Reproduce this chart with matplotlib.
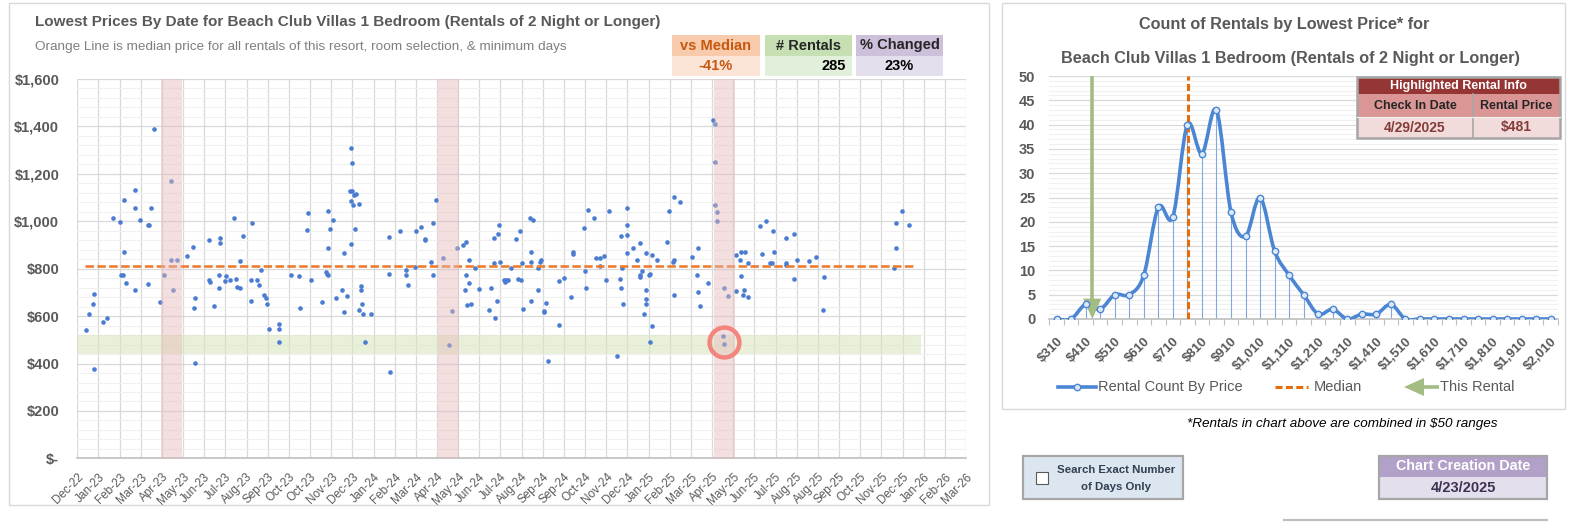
# -*- coding: utf-8 -*-
# Lowest prices by date and count of rentals by price
# Beach Club Villas 1 Bedroom (Rentals of 2 Night or Longer)
# ============================================

# Imports
import numpy as np
import pandas as pd
import matplotlib
matplotlib.use("Agg")
import matplotlib.pyplot as plt
import matplotlib.dates as mdates
import matplotlib.ticker as ticker
from matplotlib.path import Path
from matplotlib.patches import PathPatch, Rectangle, Polygon
# ============================================

plt.rcParams['font.family'] = ['Liberation Sans', 'DejaVu Sans']
# ============================================

# Variables
# scatter: check-in day (days after 2022-12-25) and lowest price
start_date = "2022-12-25"
check_in_days = [
    11, 15, 21, 22, 22, 34, 39, 47, 56, 58, 60, 62, 62, 64, 76, 76, 76, 83, 93, 95,
    93, 97, 101, 110, 115, 124, 124, 127, 132, 145, 153, 154, 156, 156, 174, 174, 176, 181, 187, 187,
    189, 189, 195, 197, 202, 207, 210, 211, 215, 215, 219, 230, 230, 231, 238, 240, 243, 247, 250, 251,
    254, 267, 267, 267, 283, 293, 295, 304, 305, 309, 324, 329, 330, 332, 332, 332, 334, 338, 342, 350,
    353, 353, 357, 362, 363, 361, 363, 362, 365, 366, 369, 362, 367, 373, 373, 375, 375, 377, 378, 381,
    389, 412, 412, 414, 427, 435, 435, 437, 448, 447, 455, 460, 460, 468, 471, 471, 474, 484, 492, 496,
    502, 510, 513, 514, 514, 516, 518, 518, 521, 526, 531,
    547, 545, 552, 552, 553, 555, 557, 558, 559, 564, 566, 567, 570, 574, 580, 583, 586, 587, 588, 590,
    599, 600, 600, 600, 603, 609, 609, 612, 613, 617, 617, 620, 623, 637, 637, 644, 653, 656, 656, 671,
    672, 673, 676, 684, 686, 692, 692, 697, 700, 703, 714, 718, 719, 721, 720, 722, 728, 728, 728, 728,
    736, 740, 744, 744, 744, 747, 750, 752, 752, 752, 752, 756, 758, 758, 760, 760, 767, 780, 783, 788,
    789, 789, 789, 797, 813, 820, 821, 821, 824, 834, 841, 844, 844, 844, 847, 847, 856, 861, 854, 856,
    872, 872, 877, 878, 878, 882, 881, 884, 887, 887, 903, 906, 912, 916, 919, 920, 922, 938, 938, 938,
    948, 949, 952, 968, 977, 987, 988, 1081, 1083, 1083, 1091, 1100,
]
lowest_prices = [
    542, 609, 651, 694, 377, 575, 592, 1015, 998, 774, 774, 1091, 871, 740, 1133, 1057, 711, 1006, 985, 985,
    736, 1057, 1390, 660, 774, 1171, 837, 711, 837, 854, 892, 635, 677, 402, 922, 753, 744, 643, 774, 719,
    930, 909, 749, 770, 753, 1015, 757, 723, 833, 719, 939, 753, 664, 993, 753, 732, 795, 689, 677, 651,
    546, 567, 546, 491, 774, 770, 635, 964, 1036, 753, 660, 787, 778, 774, 1044, 888, 968, 1006, 677, 711,
    867, 618, 685, 1310, 1247, 1129, 1129, 1086, 1069, 1112, 1116, 905, 968, 1074, 626, 727, 711, 651, 609, 491,
    609, 934, 778, 364, 960, 795, 774, 732, 960, 808, 977, 926, 922, 829, 993, 774, 1091, 846, 478, 622,
    888, 901, 711, 913, 774, 647, 837, 740, 651, 803, 715,
    719, 626, 930, 825, 592, 664, 947, 985, 829, 753, 744, 753, 753, 803, 926, 757, 960, 753, 825, 630,
    1015, 871, 829, 664, 1006, 803, 711, 829, 837, 622, 618, 656, 411, 749, 563, 761, 681, 871, 862, 972,
    791, 719, 1048, 1015, 846, 846, 812, 854, 753, 1044, 432, 757, 939, 803, 719, 651, 1057, 985, 943, 867,
    888, 837, 909, 774, 765, 791, 609, 867, 711, 673, 651, 774, 778, 491, 858, 559, 837, 913, 1044, 829,
    837, 1103, 689, 1082, 850, 774, 888, 702, 643, 740, 1428, 1411, 1251, 1069, 1040, 1002, 719, 685, 516, 481,
    858, 706, 837, 871, 770, 711, 689, 871, 825, 681, 981, 862, 1002, 825, 825, 960, 871, 930, 825, 816,
    947, 757, 837, 833, 850, 626, 765, 803, 993, 888, 1044, 985,
]

median_price = 811
median_from = "2023-01-04"
median_to = "2026-01-04"

highlight_date = "2025-04-29"
highlight_price = 481
band_lo, band_hi = 441, 521
band_to = "2026-01-15"
season_from = ["2023-04-15", "2024-04-15", "2025-04-15"]
season_to = ["2023-05-13", "2024-05-13", "2025-05-13"]

axis_from = "2022-12-25"
axis_to = "2026-03-15"

# histogram: $50 price ranges and rental counts
price_bins = [310, 360, 410, 460, 510, 560, 610, 660, 710, 760, 810, 860, 910, 960, 1010, 1060, 1110, 1160,
              1210, 1260, 1310, 1360, 1410, 1460, 1510, 1560, 1610, 1660, 1710, 1760, 1810, 1860, 1910,
              1960, 2010]
rental_counts = [0, 0, 3, 2, 5, 5, 9, 23, 21, 40, 34, 43, 22, 17, 25, 14, 9, 5,
                 1, 2, 0, 1, 1, 3, 0, 0, 0, 0, 0, 0, 0, 0, 0,
                 0, 0]

vs_median = "-41%"
n_rentals = "285"
pct_changed = "23%"
creation_date = "4/23/2025"

W, H = 1583, 522
GRAY = '#595959'
BLUE = '#4A86D4'
# ============================================

# Functions
def smooth_path(x, y):
    # Catmull-Rom through the points, as Bezier segments
    x = np.asarray(x, float)
    y = np.asarray(y, float)
    px = np.concatenate([[x[0]], x, [x[-1]]])
    py = np.concatenate([[y[0]], y, [y[-1]]])
    verts = [(x[0], y[0])]
    codes = [Path.MOVETO]
    for i in range(len(x) - 1):
        p0 = np.array([px[i], py[i]])
        p1 = np.array([px[i + 1], py[i + 1]])
        p2 = np.array([px[i + 2], py[i + 2]])
        p3 = np.array([px[i + 3], py[i + 3]])
        verts += [tuple(p1 + (p2 - p0) / 6), tuple(p2 - (p3 - p1) / 6), tuple(p2)]
        codes += [Path.CURVE4] * 3
    return Path(verts, codes)


def box(ax, x0, y0, x1, y1, fc, ec='none', lw=0):
    ax.add_patch(Rectangle((x0, y0), x1 - x0, y1 - y0, facecolor=fc, edgecolor=ec, linewidth=lw))


def px_axes(fig, x0, y0, x1, y1):
    return fig.add_axes([x0 / W, (H - y1) / H, (x1 - x0) / W, (y1 - y0) / H])
# ============================================

# Main
if __name__ == '__main__':

    fig = plt.figure(figsize=(W / 100, H / 100), dpi=100)
    fig.patch.set_facecolor('white')

    # background layer in pixel coordinates
    bg = fig.add_axes([0, 0, 1, 1])
    bg.set_xlim(0, W)
    bg.set_ylim(H, 0)
    bg.axis('off')

    # chart frames
    box(bg, 9, 3, 989, 505, 'none', '#D9D9D9', 1)
    box(bg, 1002, 3, 1565, 409, 'none', '#D9D9D9', 1)

    # ---------------- left chart ----------------
    bg.text(35, 22, "Lowest Prices By Date for Beach Club Villas 1 Bedroom (Rentals of 2 Night or Longer)",
            fontsize=11, weight='bold', color=GRAY, va='center', ha='left')
    bg.text(35, 47, "Orange Line is median price for all rentals of this resort, room selection, & minimum days",
            fontsize=9.7, color='#7F7F7F', va='center', ha='left')

    heads = [("vs Median", vs_median, '#F8CBAD', '#FCE4D6', '#C65911', 672, 760, 'center'),
             ("# Rentals", n_rentals, '#C6E0B4', '#E2EFDA', '#000000', 765, 852, 'right'),
             ("% Changed", pct_changed, '#CCC0DA', '#E4DFEC', '#000000', 856, 943, 'center')]
    for head, val, c1, c2, tc, x0, x1, ha in heads:
        box(bg, x0, 35, x1, 56, c1)
        box(bg, x0, 56, x1, 76, c2)
        bg.text((x0 + x1) / 2, 45.5, head, fontsize=10.5, weight='bold',
                color='#C65911' if tc == '#C65911' else '#262626', ha='center', va='center')
        vx = x1 - 6 if ha == 'right' else (x0 + x1) / 2
        bg.text(vx, 66, val, fontsize=10.5, weight='bold', color=tc, ha=ha, va='center')

    ax1 = px_axes(fig, 77.3, 79, 966, 458.4)
    dates = pd.Timestamp(start_date) + pd.to_timedelta(check_in_days, unit='D')
    ax1.set_axisbelow(True)
    ax1.scatter(dates, lowest_prices, s=11, color='#4A7DD1', linewidths=0, zorder=2)
    ax1.plot([pd.Timestamp(median_from), pd.Timestamp(median_to)], [median_price, median_price],
             color='#ED7D31', lw=1.9, dashes=(3.2, 1.3), zorder=3)
    ax1.fill_between([pd.Timestamp(axis_from), pd.Timestamp(band_to)], band_lo, band_hi,
                     color='#D8E4BC', alpha=0.55, lw=0, zorder=1.5)
    for a, b in zip(season_from, season_to):
        ax1.axvspan(pd.Timestamp(a), pd.Timestamp(b), color='#E6B9B8', alpha=0.45, lw=0, zorder=4)
    ax1.plot([pd.Timestamp(highlight_date)], [highlight_price + 8], 'o', ms=21.5, mfc='none',
             mec='#F4847E', mew=3.2, zorder=5)

    ax1.set_xlim(pd.Timestamp(axis_from), pd.Timestamp(axis_to))
    ax1.set_ylim(0, 1600)
    ax1.xaxis.set_major_locator(ticker.FixedLocator(
        mdates.date2num(pd.date_range(axis_from, axis_to, freq='28D'))))
    ax1.xaxis.set_major_formatter(mdates.DateFormatter('%b-%y'))
    ax1.yaxis.set_major_locator(ticker.MultipleLocator(200))
    ax1.yaxis.set_minor_locator(ticker.MultipleLocator(40))
    ax1.yaxis.set_major_formatter(ticker.FuncFormatter(lambda v, p: "$-" if v == 0 else f"${v:,.0f}"))
    ax1.grid(which='major', color='#D9D9D9', lw=0.9)
    ax1.grid(which='minor', axis='y', color='#F0F0F0', lw=0.8)
    for s in ['top', 'right', 'left']:
        ax1.spines[s].set_visible(False)
    ax1.spines['bottom'].set_color('#BFBFBF')
    ax1.spines['bottom'].set_linewidth(1.2)
    ax1.tick_params(axis='y', which='both', length=0, pad=13, labelsize=10.5, labelcolor=GRAY)
    ax1.tick_params(axis='x', length=0, pad=9, labelsize=8.5, labelcolor=GRAY)
    for lab in ax1.get_yticklabels():
        lab.set_fontweight('bold')
    for lab in ax1.get_xticklabels():
        lab.set_rotation(45)
        lab.set_ha('right')
        lab.set_rotation_mode('anchor')

    # ---------------- right chart ----------------
    bg.text(1284, 25, "Count of Rentals by Lowest Price* for", fontsize=11.7, weight='bold',
            color=GRAY, ha='center', va='center')
    bg.text(1290, 58, "Beach Club Villas 1 Bedroom (Rentals of 2 Night or Longer)", fontsize=11.7,
            weight='bold', color=GRAY, ha='center', va='center')

    ax2 = px_axes(fig, 1049.3, 76, 1558, 319)
    idx = np.arange(len(price_bins))
    ax2.set_axisbelow(True)
    ax2.vlines(idx, 0, rental_counts, color='#7FAADF', lw=0.8, zorder=2)
    ax2.add_patch(PathPatch(smooth_path(idx, rental_counts), facecolor='none', edgecolor=BLUE,
                            lw=2.6, zorder=3, capstyle='round', joinstyle='round'))
    ax2.plot(idx, rental_counts, 'o', ms=4.6, mfc='#DDE8F5', mec=BLUE, mew=1, zorder=5)

    med_pos = (median_price - 358) / 50
    ax2.plot([med_pos, med_pos], [0, 50], color='#E46C0A', lw=2.2, dashes=(2.3, 1.1), zorder=4)
    hl_pos = (highlight_price - 358) / 50
    ax2.plot([hl_pos, hl_pos], [4, 50], color='#A3BC84', lw=2.6, zorder=4, solid_capstyle='butt')
    ax2.add_patch(Polygon([[hl_pos - 0.62, 4.2], [hl_pos + 0.62, 4.2], [hl_pos, 0]], closed=True,
                          facecolor='#A3BC84', edgecolor='none', zorder=4))

    ax2.set_xlim(-0.5, len(price_bins) - 0.5)
    ax2.set_ylim(0, 50)
    ax2.set_xticks(idx[::2])
    ax2.set_xticklabels([f"${p:,}" for p in price_bins[::2]])
    ax2.set_xticks(np.arange(-0.5, len(price_bins)), minor=True)
    ax2.yaxis.set_major_locator(ticker.MultipleLocator(5))
    ax2.yaxis.set_minor_locator(ticker.MultipleLocator(1))
    ax2.grid(which='major', axis='y', color='#D9D9D9', lw=0.9)
    ax2.grid(which='minor', axis='y', color='#F0F0F0', lw=0.8)
    for s in ['top', 'right', 'left']:
        ax2.spines[s].set_visible(False)
    ax2.spines['bottom'].set_color('#BFBFBF')
    ax2.spines['bottom'].set_linewidth(1.2)
    ax2.tick_params(axis='y', which='both', length=0, pad=10, labelsize=10.5, labelcolor=GRAY)
    ax2.tick_params(axis='x', which='major', length=0, pad=12, labelsize=9.5, labelcolor=GRAY)
    ax2.tick_params(axis='x', which='minor', length=4, color='#BFBFBF', width=0.8)
    for lab in ax2.get_yticklabels():
        lab.set_fontweight('bold')
    for lab in ax2.get_xticklabels():
        lab.set_fontweight('bold')
        lab.set_rotation(45)
        lab.set_ha('right')
        lab.set_rotation_mode('anchor')

    # legend
    ly = 387
    bg.plot([1058, 1096], [ly, ly], color=BLUE, lw=2.6)
    bg.plot([1077], [ly], 'o', ms=4.6, mfc='#DDE8F5', mec=BLUE, mew=1)
    bg.text(1098, ly, "Rental Count By Price", fontsize=10.5, color=GRAY, va='center')
    bg.plot([1275, 1308], [ly, ly], color='#E46C0A', lw=2.2, dashes=(2.3, 1.1))
    bg.text(1314, ly, "Median", fontsize=10.5, color=GRAY, va='center')
    bg.add_patch(Polygon([[1404, ly], [1424, ly - 9], [1424, ly + 9]], closed=True,
                         facecolor='#A3BC84', edgecolor='none'))
    bg.plot([1422, 1439], [ly, ly], color='#A3BC84', lw=2.6, solid_capstyle='butt')
    bg.text(1440, ly, "This Rental", fontsize=10.5, color=GRAY, va='center')

    # footnote and side boxes
    bg.text(1342, 424, "*Rentals in chart above are combined in $50 ranges", fontsize=9.7,
            style='italic', color='#000000', ha='center', va='center')

    box(bg, 1023, 456, 1183, 499, '#DCE6F1', '#A6A6A6', 1.6)
    box(bg, 1036, 472, 1048, 484, 'white', '#595959', 0.8)
    bg.text(1116, 470, "Search Exact Number", fontsize=8.2, weight='bold', color='#333F50',
            ha='center', va='center')
    bg.text(1116, 487, "of Days Only", fontsize=8.2, weight='bold', color='#333F50',
            ha='center', va='center')

    box(bg, 1379, 456, 1547, 477, '#B1A0C7')
    box(bg, 1379, 477, 1547, 499, '#E4DFEC')
    box(bg, 1379, 456, 1547, 499, 'none', '#A6A6A6', 1.6)
    bg.text(1463, 466.5, "Chart Creation Date", fontsize=10.3, weight='bold', color='white',
            ha='center', va='center')
    bg.text(1463, 488, creation_date, fontsize=10.5, weight='bold', color='#3F3151',
            ha='center', va='center')
    bg.plot([1284, 1547], [520, 520], color='#BFBFBF', lw=1.6)

    # highlighted rental table, on top of the right chart
    fg = fig.add_axes([0, 0, 1, 1], zorder=5)
    fg.set_xlim(0, W)
    fg.set_ylim(H, 0)
    fg.axis('off')
    box(fg, 1357, 77, 1560, 94, '#963634')
    box(fg, 1357, 94, 1560, 117, '#DA9694')
    box(fg, 1357, 117, 1560, 138, '#F2DCDB')
    fg.plot([1473, 1473], [94, 138], color='#A6A6A6', lw=1.2)
    fg.plot([1357, 1560], [117, 117], color='#F2F2F2', lw=0.8)
    box(fg, 1357, 77, 1560, 138, 'none', '#A6A6A6', 1.8)
    fg.text(1458, 85.5, "Highlighted Rental Info", fontsize=9, weight='bold', color='white',
            ha='center', va='center')
    fg.text(1415, 106, "Check In Date", fontsize=9, weight='bold', color='#262626',
            ha='center', va='center')
    fg.text(1516, 106, "Rental Price", fontsize=9, weight='bold', color='#262626',
            ha='center', va='center')
    hl = pd.Timestamp(highlight_date)
    fg.text(1415, 127.5, f"{hl.month}/{hl.day}/{hl.year}", fontsize=10, weight='bold', color='#843C39',
            ha='center', va='center')
    fg.text(1516, 127.5, f"${highlight_price}", fontsize=10, weight='bold', color='#843C39',
            ha='center', va='center')

    fig.savefig("out.png", dpi=100)
# ============================================
